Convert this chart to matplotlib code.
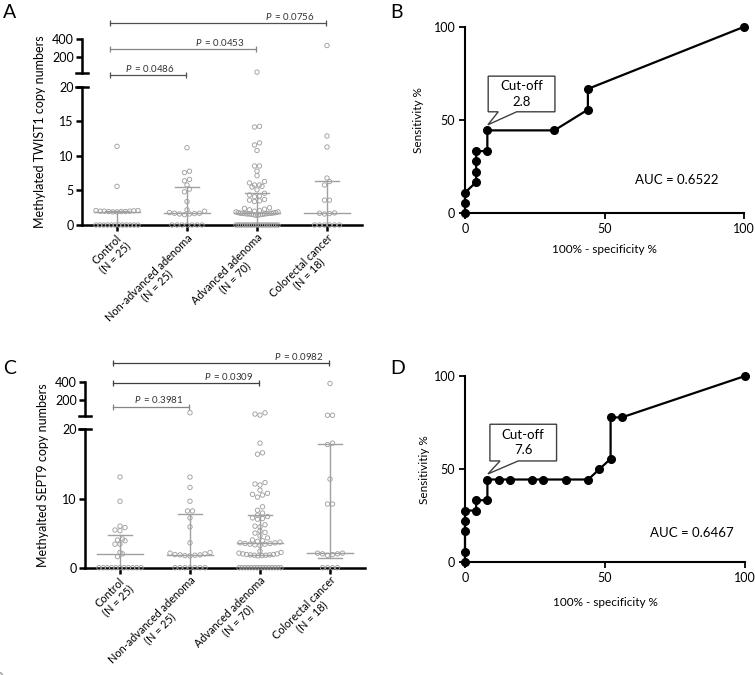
import numpy as np
import matplotlib.pyplot as plt
from matplotlib.patches import Polygon
from matplotlib.transforms import blended_transform_factory

plt.rcParams['font.family'] = ['Lato', 'DejaVu Sans']
plt.rcParams['mathtext.fontset'] = 'custom'
plt.rcParams['mathtext.it'] = 'Lato:italic'
plt.rcParams['mathtext.rm'] = 'Lato'

W, H = 755, 675

# --- data ---
groups = ['Control\n(N = 25)', 'Non-advanced adenoma\n(N = 25)',
          'Advanced adenoma\n(N = 70)', 'Colorectal cancer\n(N = 18)']

twist_control = [0, 0, 0, 0, 0, 0, 0, 0, 0, 0, 0, 0,
                 1.9, 1.9, 1.95, 1.95, 1.95, 2.0, 2.0, 2.0, 2.05, 2.1, 2.1,
                 5.6, 11.4]
twist_nonadv = [0, 0, 0, 0, 0, 0, 0,
                1.5, 1.6, 1.6, 1.65, 1.7, 1.7, 1.8, 2.0, 2.2,
                3.4, 4.8, 5.2, 5.8, 6.4, 6.6, 7.6, 7.8, 11.2]
twist_adv = [0, 0, 0, 0, 0, 0, 0, 0, 0, 0, 0, 0, 0, 0, 0, 0, 0, 0, 0, 0,
             1.4, 1.45, 1.5, 1.5, 1.55, 1.55, 1.6, 1.6, 1.6, 1.65, 1.65, 1.7, 1.7,
             1.7, 1.7, 1.75, 1.8, 1.8, 1.9, 1.9, 2.0, 2.1, 2.2, 2.3, 2.4, 2.5,
             3.4, 3.5, 3.6, 3.7, 4.1, 4.2,
             4.35, 4.6, 5.1, 5.5, 5.6, 5.8, 5.8, 6.1, 6.3, 7.15, 7.8, 8.55, 8.55,
             10.8, 11.6, 11.9, 14.2, 14.3, 30]
twist_crc = [0, 0, 0, 0, 0, 0,
             1.6, 1.65, 1.7, 1.75, 3.6, 3.6, 5.8, 6.3, 6.8, 11.3, 12.9, 330]

sept9_control = [0, 0, 0, 0, 0, 0, 0, 0, 0, 0, 0,
                 1.6, 2.0, 2.2, 3.4, 3.4, 3.9, 4.0, 4.15, 5.35, 5.45, 5.8, 6.0,
                 9.6, 13.1]
sept9_nonadv = [0, 0, 0, 0, 0, 0, 0,
                1.7, 1.75, 1.8, 1.85, 1.85, 1.9, 2.0, 2.1, 2.2,
                3.6, 5.9, 7.2, 8.2, 8.2, 9.6, 11.6, 13.1, 53]
sept9_adv = [0, 0, 0, 0, 0, 0, 0, 0, 0, 0, 0, 0, 0, 0, 0,
             1.7, 1.75, 1.8, 1.8, 1.85, 1.85, 1.9, 1.9, 2.0, 2.0, 2.1, 2.2, 2.4,
             3.2, 3.3, 3.4, 3.4, 3.5, 3.5, 3.6, 3.6, 3.7, 3.8, 3.9, 4.0,
             4.3, 4.6, 5.0, 5.1, 5.3, 5.9, 6.0, 6.2, 7.0, 7.1, 7.2, 7.4,
             7.6, 7.9, 8.3, 8.8, 10.2, 10.5, 10.6, 10.75, 11.2, 11.95, 12.1, 12.3,
             16.4, 16.6, 18.0, 27, 38, 52]
sept9_crc = [0, 0, 0, 0,
             1.8, 1.9, 2.0, 2.0, 2.1, 2.1,
             9.2, 9.2, 12.8, 17.8, 18.0, 25, 25, 380]

twist_p = ['0.0486', '0.0453', '0.0756']
sept9_p = ['0.3981', '0.0309', '0.0982']

roc_b_x = [0, 0, 0, 4, 4, 4, 4, 8, 8, 32, 44, 44, 100]
roc_b_y = [0, 5.56, 11.11, 16.67, 22.22, 27.78, 33.33, 33.33, 44.44, 44.44, 55.56, 66.67, 100]
roc_d_x = [0, 0, 0, 0, 0, 4, 4, 8, 8, 12, 16, 24, 28, 36, 44, 48, 52, 52, 56, 100]
roc_d_y = [0, 5.56, 16.67, 22.22, 27.78, 27.78, 33.33, 33.33, 44.44, 44.44, 44.44,
           44.44, 44.44, 44.44, 44.44, 50.0, 55.56, 77.78, 77.78, 100]
cutoff_b, cutoff_d = '2.8', '7.6'
cut_idx_b, cut_idx_d = 8, 8
auc_b, auc_d = '0.6522', '0.6467'

fig = plt.figure(figsize=(W / 100, H / 100), dpi=100)


def rect(l, t, r, b):
    return [l / W, 1 - b / H, (r - l) / W, (b - t) / H]


def row_layout(ax_lo, ax_hi, vals, split=20, d=5.0, half_w=21.0):
    # GraphPad-like rows: points at about the same height are spread sideways
    vals = np.asarray(vals, float)
    pts = np.column_stack([np.zeros_like(vals), vals])
    ypix = np.where(vals > split, ax_hi.transData.transform(pts)[:, 1],
                    ax_lo.transData.transform(pts)[:, 1])
    order = np.argsort(ypix, kind='stable')
    rows, cur, start = [], [], None
    for k in order:
        if cur and ypix[k] - start > 0.8 * d:
            rows.append(cur)
            cur = []
        if not cur:
            start = ypix[k]
        cur.append(k)
    if cur:
        rows.append(cur)
    offs = np.zeros(len(vals))
    for row in rows:
        n = len(row)
        if n == 1:
            continue
        s = min(d, 2 * half_w / (n - 1))
        slots = (np.arange(n) - (n - 1) / 2) * s
        slots = slots[np.argsort(np.abs(slots), kind='stable')]
        for k, sx in zip(sorted(row, key=lambda j: vals[j]), slots):
            offs[k] = sx
    unit = ax_lo.transData.transform([[1, 0]])[0, 0] - ax_lo.transData.transform([[0, 0]])[0, 0]
    return offs / unit


def scatter_panel(lo, hi, data, yticks, ylabel, ylab_y, pvals, bar_y, bar_c, gap):
    ax = fig.add_axes(rect(*lo))
    axh = fig.add_axes(rect(*hi))
    for a in (ax, axh):
        a.set_xlim(-0.5, 3.5)
        a.spines[['top', 'right']].set_visible(False)
        a.spines['left'].set_linewidth(1.8)
        a.tick_params(axis='y', width=1.8, length=4, labelsize=9, pad=2)
    ax.set_ylim(0, 20)
    ax.set_yticks(yticks)
    axh.set_ylim(20, 400)
    axh.set_yticks([200, 400])
    axh.spines['bottom'].set_visible(False)
    axh.set_xticks([])
    ax.spines['bottom'].set_linewidth(1.8)
    ax.set_xticks(range(4))
    ax.set_xticklabels(groups, rotation=45, ha='right', rotation_mode='anchor',
                       multialignment='center', fontsize=7.8, linespacing=1.05)
    ax.tick_params(axis='x', width=1.8, length=4, pad=1)
    # axis break caps
    cap = 6 / (lo[2] - lo[0])
    ax.plot([-cap, cap], [1, 1], color='black', lw=1.8, transform=ax.transAxes, clip_on=False)
    axh.plot([-cap, cap], [0, 0], color='black', lw=1.8, transform=axh.transAxes, clip_on=False)

    for i, vals in enumerate(data):
        v = np.asarray(vals, float)
        xo = row_layout(ax, axh, v)
        low = v <= 20
        ax.scatter(i + xo[low], v[low], s=10, facecolor='none', edgecolor='#a0a0a0',
                   linewidth=0.65, clip_on=False, zorder=3)
        axh.scatter(i + xo[~low], v[~low], s=10, facecolor='none', edgecolor='#a0a0a0',
                    linewidth=0.65, clip_on=False, zorder=3)
        q1, med, q3 = np.percentile(v, [25, 50, 75], method='weibull')
        lc = '#a0a0a0'
        ax.plot([i - 0.33, i + 0.33], [med, med], color=lc, lw=1.0, zorder=2)
        ax.plot([i - 0.17, i + 0.17], [q3, q3], color=lc, lw=1.0, zorder=2)
        ax.plot([i - 0.17, i + 0.17], [q1, q1], color=lc, lw=1.0, zorder=2)
        ax.plot([i, i], [q1, q3], color=lc, lw=1.0, zorder=2)

    tr = blended_transform_factory(axh.transData, axh.transAxes)
    for k, (p, y, c) in enumerate(zip(pvals, bar_y, bar_c)):
        x0, x1 = -0.1, k + 1 - 0.02
        axh.plot([x0, x1], [y, y], color=c, lw=0.9, marker='|', ms=4, mew=0.9,
                 transform=tr, clip_on=False)
        axh.text(x1 - gap, y + 0.04, r'$P\,$ = ' + p, transform=tr, ha='right', va='bottom',
                 fontsize=7, color='#333333')

    fig.text(lo[0] / W - 42 / W, 1 - ylab_y / H, ylabel, rotation=90, ha='center',
             va='center', fontsize=9)
    return ax


def roc_panel(r, xs, ys, idx, cutoff, auc, ylabel, box, auc_xy, ylab_x, xlab_y):
    ax = fig.add_axes(rect(*r))
    ax.plot(xs, ys, '-o', color='black', lw=1.6, ms=5.5, clip_on=False, zorder=3)
    ax.set_xlim(0, 100)
    ax.set_ylim(0, 100)
    ax.set_xticks([0, 50, 100])
    ax.set_yticks([0, 50, 100])
    ax.spines[['top', 'right']].set_visible(False)
    ax.spines[['left', 'bottom']].set_linewidth(1.5)
    ax.tick_params(width=1.3, length=4, labelsize=9, pad=3)
    ax.set_xlabel('100% - specificity %', fontsize=8.5)
    ax.set_ylabel(ylabel, fontsize=8.5)
    ax.xaxis.set_label_coords(0.5, xlab_y)
    ax.yaxis.set_label_coords(ylab_x, 0.5)

    x0, x1, y0, y1, b0, b1 = box
    tip = (xs[idx] + 0.2, ys[idx] + 3)
    poly = Polygon([(x0, y0), (b0, y0), tip, (b1, y0), (x1, y0), (x1, y1), (x0, y1)],
                   closed=True, facecolor='white', edgecolor='#404040', lw=1.0,
                   zorder=4, clip_on=False)
    ax.add_patch(poly)
    ax.text((x0 + x1) / 2, (y0 + y1) / 2, 'Cut-off\n' + cutoff, ha='center', va='center',
            fontsize=9.5, linespacing=1.35, zorder=5)
    ax.text(auc_xy[0], auc_xy[1], 'AUC = ' + auc, ha='center', va='center', fontsize=9.5)
    return ax


scatter_panel((82, 87, 362, 225), (82, 39.3, 362, 73),
              [twist_control, twist_nonadv, twist_adv, twist_crc], [0, 5, 10, 15, 20],
              'Methylated TWIST1 copy numbers', 132, twist_p,
              [-0.06, 0.71, 1.48], ['#505050', '#858585', '#505050'], 0.16)
scatter_panel((85, 429.3, 365, 567.7), (85, 381.7, 365, 415.7),
              [sept9_control, sept9_nonadv, sept9_adv, sept9_crc], [0, 10, 20],
              'Methyalted SEPT9 copy numbers', 475, sept9_p,
              [0.265, 0.95, 1.54], ['#858585', '#404040', '#404040'], 0.07)

roc_panel((465, 26.7, 744.3, 213.3), roc_b_x, roc_b_y, cut_idx_b, cutoff_b, auc_b,
          'Sensitivity %', (8.3, 32.2, 54.4, 73.5, 11.9, 18.5), (75.8, 17.8), -0.147, -0.165)
roc_panel((465, 376, 745, 562.3), roc_d_x, roc_d_y, cut_idx_d, cutoff_d, auc_d,
          'Sensitivitiy %', (8.9, 32.7, 54.4, 74.1, 12.5, 19.0), (81, 15.6), -0.125, -0.185)

for letter, x, y in [('A', 3, 18), ('B', 390, 18), ('C', 3, 374), ('D', 390, 374)]:
    fig.text(x / W, 1 - y / H, letter, fontsize=14, va='baseline')

fig.savefig('out.png', dpi=100)
